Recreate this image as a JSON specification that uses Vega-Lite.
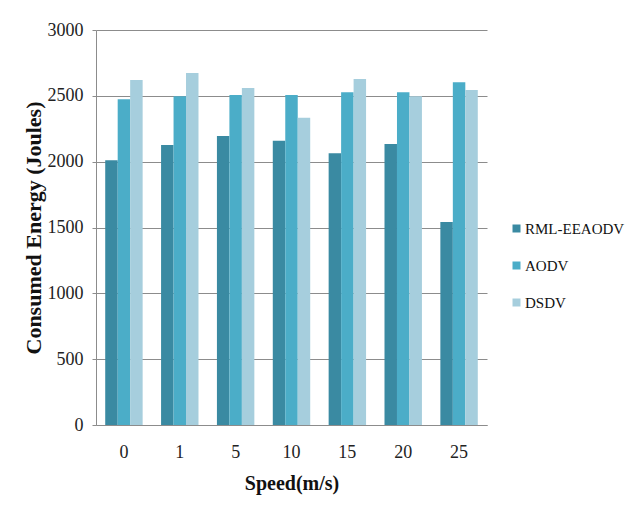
{
  "$schema": "https://vega.github.io/schema/vega-lite/v6.json",
  "width": 391,
  "height": 395,
  "autosize": {"type": "none"},
  "padding": {"left": 96, "top": 30, "right": 145, "bottom": 97},
  "background": "white",
  "data": {
    "values": [
      {"speed": "0", "protocol": "RML-EEAODV", "energy": 2010},
      {"speed": "0", "protocol": "AODV", "energy": 2475},
      {"speed": "0", "protocol": "DSDV", "energy": 2620},
      {"speed": "1", "protocol": "RML-EEAODV", "energy": 2127},
      {"speed": "1", "protocol": "AODV", "energy": 2496},
      {"speed": "1", "protocol": "DSDV", "energy": 2673},
      {"speed": "5", "protocol": "RML-EEAODV", "energy": 2195},
      {"speed": "5", "protocol": "AODV", "energy": 2506},
      {"speed": "5", "protocol": "DSDV", "energy": 2560},
      {"speed": "10", "protocol": "RML-EEAODV", "energy": 2159},
      {"speed": "10", "protocol": "AODV", "energy": 2506},
      {"speed": "10", "protocol": "DSDV", "energy": 2334},
      {"speed": "15", "protocol": "RML-EEAODV", "energy": 2063},
      {"speed": "15", "protocol": "AODV", "energy": 2527},
      {"speed": "15", "protocol": "DSDV", "energy": 2628},
      {"speed": "20", "protocol": "RML-EEAODV", "energy": 2134},
      {"speed": "20", "protocol": "AODV", "energy": 2527},
      {"speed": "20", "protocol": "DSDV", "energy": 2496},
      {"speed": "25", "protocol": "RML-EEAODV", "energy": 1542},
      {"speed": "25", "protocol": "AODV", "energy": 2603},
      {"speed": "25", "protocol": "DSDV", "energy": 2544}
    ]
  },
  "mark": {"type": "bar"},
  "encoding": {
    "x": {
      "field": "speed",
      "type": "nominal",
      "sort": ["0", "1", "5", "10", "15", "20", "25"],
      "scale": {"paddingInner": 0.33, "paddingOuter": 0.165},
      "axis": {
        "title": "Speed(m/s)",
        "labelAngle": 0,
        "ticks": false,
        "labelPadding": 18,
        "titlePadding": 12,
        "titleFontSize": 20,
        "grid": false
      }
    },
    "xOffset": {
      "field": "protocol",
      "type": "nominal",
      "sort": ["RML-EEAODV", "AODV", "DSDV"]
    },
    "y": {
      "field": "energy",
      "type": "quantitative",
      "scale": {"domain": [0, 3000], "nice": false},
      "axis": {
        "title": "Consumed Energy (Joules)",
        "format": "d",
        "values": [0, 500, 1000, 1500, 2000, 2500, 3000],
        "tickSize": 4,
        "labelPadding": 9,
        "titlePadding": 2,
        "titleFontSize": 22
      }
    },
    "color": {
      "field": "protocol",
      "type": "nominal",
      "sort": ["RML-EEAODV", "AODV", "DSDV"],
      "scale": {
        "domain": ["RML-EEAODV", "AODV", "DSDV"],
        "range": ["#3a8aa2", "#4badc8", "#a6cedd"]
      },
      "legend": {
        "title": null,
        "orient": "none",
        "legendX": 413,
        "legendY": 191,
        "symbolType": "square",
        "symbolSize": 64,
        "symbolStrokeWidth": 0,
        "labelFontSize": 15,
        "labelFont": "Liberation Serif",
        "labelColor": "#111111",
        "labelOffset": 1,
        "labelLimit": 200,
        "rowPadding": 21
      }
    }
  },
  "config": {
    "view": {"stroke": null},
    "axis": {
      "domainColor": "#8c8c8c",
      "tickColor": "#8c8c8c",
      "gridColor": "#8c8c8c",
      "gridOpacity": 1,
      "labelFont": "Liberation Serif",
      "labelFontSize": 18,
      "labelColor": "#222222",
      "titleFont": "Liberation Serif",
      "titleFontWeight": "bold",
      "titleColor": "#111111"
    }
  }
}
